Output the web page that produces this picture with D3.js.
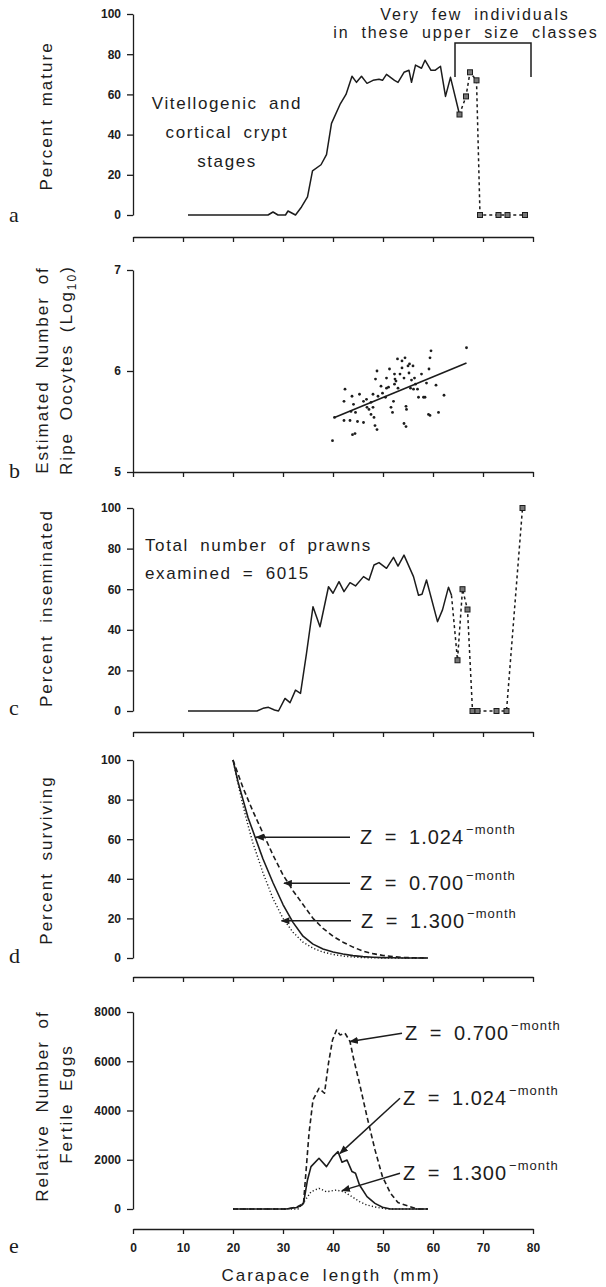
<html>
<head>
<meta charset='UTF-8'>
<script src="https://d3js.org/d3.v7.min.js"></script>
<style>
  body { margin: 0; background: #fff; }
  svg text { font-family: "Liberation Sans", Arial, Helvetica, sans-serif; fill: #1c1c1c; }
  .axis path, .axis line { stroke: #1c1c1c; stroke-width: 1.3; }
  .axis .tick text { font-size: 12px; font-weight: bold; }
  .lbl { font-size: 17px; letter-spacing: 2px; word-spacing: 5px; }
  .note { font-size: 17px; letter-spacing: 1.6px; word-spacing: 5px; }
  .top { font-size: 16px; letter-spacing: 1.9px; word-spacing: 5.5px; }
  .zlab { font-size: 20px; letter-spacing: 1px; word-spacing: 5px; }
  .panel { font-family: "Liberation Serif", "Times New Roman", serif !important; font-size: 22px; }
</style>
</head>
<body>
<svg id="fig" width="606" height="1287"></svg>
<script>
// ---- data ----
const xTicks = [0, 10, 20, 30, 40, 50, 60, 70, 80];
const pctTicks = [0, 20, 40, 60, 80, 100];
const logTicks = [5, 6, 7];
const eggTicks = [0, 2000, 4000, 6000, 8000];

// (a) percent mature, [carapace mm, %]
const matureSolid = [[11,0],[27,0],[28,1.5],[29,0],[30.5,0],[31,2],[32.5,0],[33.7,4],[34.9,9],[35.9,22],
  [37.6,25],[38.7,30],[39.7,45.6],[41.4,55],[42.6,60],[43.8,69],[44.7,66],[45.7,69],[46.8,65.5],[48,67],
  [49.2,67.5],[49.9,67],[50.7,70],[52.3,67],[53,66],[54.2,71],[55.2,72],[55.7,66],[56.5,74.6],[57.7,73],
  [58.4,77],[59.6,72],[60.4,72],[61.5,74],[62.5,59],[63.5,68.5],[65.3,50]];
const matureSparse = [[65.3,50],[66.6,59],[67.4,71],[68.7,67],[69.4,0],[73.1,0],[74.9,0],[78.4,0]];

// (b) log10 ripe oocytes vs carapace length
const oocytePoints = [[39.9,5.31],[40.3,5.54],[42.4,5.82],[42.2,5.70],[43.8,5.75],[44.1,5.67],[43.6,5.60],
  [42.2,5.51],[43.4,5.51],[44.5,5.59],[44.9,5.50],[43.9,5.37],[44.4,5.38],[46.1,5.70],[46.7,5.72],[46.8,5.64],
  [47.2,5.62],[47.6,5.69],[48.0,5.64],[48.2,5.54],[48.4,5.46],[48.8,5.42],[49.0,5.75],[48.0,5.77],[48.5,5.92],
  [48.8,6.00],[49.6,5.85],[49.9,5.78],[50.5,5.74],[50.7,5.83],[50.7,5.93],[51.1,5.84],[51.3,6.02],[51.6,5.64],
  [51.9,5.59],[52.1,5.70],[52.3,5.87],[52.4,5.92],[52.6,5.90],[53.0,5.83],[52.9,6.12],[53.4,5.97],[53.8,6.10],
  [54.2,5.93],[54.4,6.13],[54.6,5.65],[54.7,5.62],[54.6,5.45],[55.0,6.05],[55.2,5.98],[55.3,6.07],[55.5,5.83],
  [55.7,5.91],[56.0,6.05],[56.1,5.82],[56.3,5.93],[56.5,5.87],[56.9,5.82],[57.1,5.74],[57.7,5.97],[58.1,5.74],
  [58.4,5.74],[58.7,5.88],[59.1,5.57],[59.2,6.02],[59.4,5.56],[59.4,6.13],[59.6,6.20],[60.6,5.86],[61.1,5.59],
  [62.2,5.76],[66.7,6.23],[54.2,5.48],[52.3,5.97],[47.6,5.57],[46.1,5.49],[45.3,5.77],[53.8,6.03]];
const oocyteFit = [[40.3,5.54],[66.7,6.08]];

// (c) percent inseminated
const insemSolid = [[11,0],[24.8,0],[26,1.3],[27.1,1.8],[28.3,0.5],[29.1,0],[30.4,6.2],[31.4,4.1],[32.5,10.3],
  [33.5,8.7],[34.7,28.4],[36,51.4],[37.4,41.5],[39.1,61.2],[40,58],[41.2,63.7],[42.2,58.8],[43.4,63.2],
  [44.5,61.6],[46.1,66.2],[47.2,64.5],[48.2,71.9],[49.2,73.1],[50.7,70.3],[52.1,75.7],[53,71.4],[54.2,76.8],
  [56.1,66.2],[57.1,57],[57.8,57.5],[58.7,64.5],[60.9,44],[61.9,49.8],[63.1,61],[63.7,57]];
const insemSparse = [[63.7,57],[64.9,25],[65.9,60],[66.9,50],[67.9,0],[68.9,0],[72.7,0],[74.7,0],[77.9,100]];

// (d) percent surviving
const survLength = [20,21,22,23,24,26,28,30,32,34,36,38,40,42,44,46,48,50,52,54,56,59];
const surv1024 = [100,89,80,71,64,50,38,27,18,11,7,4.5,3,2,1.2,0.7,0.4,0.2,0.1,0,0,0];
const surv0700 = [100,93,86,80,74,63,52,42,34,27,20,15,11,8,5.5,3.5,2.2,1.3,0.7,0.3,0.1,0];
const surv1300 = [100,88,77,67,58,43,30,20,13,8,5,3,1.8,1,0.5,0.2,0.1,0,0,0,0,0];
const survArrows = [
  {z: '1.024', from: [43.4, 61], to: [24.6, 61]},
  {z: '0.700', from: [43.4, 37.7], to: [30.2, 37.7]},
  {z: '1.300', from: [43.6, 18.8], to: [29.7, 18.8]}
];

// (e) relative number of fertile eggs
const eggs1024 = [[20,0],[30.6,0],[31.5,30],[32.8,60],[33.7,150],[34.1,230],[34.9,1180],[35.6,1720],[37.2,2060],
  [38.7,1720],[40,2125],[41,2330],[41.8,1900],[42.8,1990],[43.8,1520],[44.5,1450],[45.3,975],[46.8,500],
  [48.4,230],[49.9,70],[51.5,0],[59,0]];
const eggs0700 = [[20,0],[31,0],[32.9,95],[34.1,230],[35.2,3070],[36,4430],[37.2,4900],[38.3,4700],[39.1,5920],
  [39.9,6860],[40.7,7270],[41.4,7070],[42.4,7140],[43.4,6800],[44.1,6120],[45.3,5100],[46.8,3750],[48.4,2400],
  [49.9,1310],[51.5,640],[53,260],[55.4,95],[56.9,0],[59,0]];
const eggs1300 = [[20,0],[33,0],[34.5,370],[35.6,700],[37.2,840],[38.7,700],[40.7,770],[41.4,730],[42.2,700],
  [43.8,500],[45.3,300],[46.8,160],[48.7,70],[50.7,0],[59,0]];
const eggArrows = [
  {z: '0.700', from: [53.8, 7136], to: [43.4, 6800]},
  {z: '1.024', from: [53.4, 4495], to: [41.4, 2260]},
  {z: '1.300', from: [53.4, 1450], to: [41.8, 745]}
];

// ---- drawing ----
const svg = d3.select('#fig');
const ink = '#1c1c1c';
const x = d3.scaleLinear().domain([0, 80]).range([133, 533]);

svg.append('defs').append('marker')
   .attr('id', 'head').attr('viewBox', '0 0 10 8')
   .attr('refX', 9).attr('refY', 4)
   .attr('markerWidth', 9).attr('markerHeight', 7)
   .attr('markerUnits', 'userSpaceOnUse').attr('orient', 'auto')
   .append('path').attr('d', 'M0,0 L10,4 L0,8 Z').attr('fill', ink);

function yScale(domain, top, bottom) {
  return d3.scaleLinear().domain(domain).range([bottom, top]);
}

function yAxis(y, ticks) {
  svg.append('g').attr('class', 'axis')
     .attr('transform', 'translate(133,0)')
     .call(d3.axisLeft(y).tickValues(ticks).tickFormat(d3.format('d'))
             .tickSize(6).tickSizeOuter(0).tickPadding(6));
}

function xAxis(yPos, labels) {
  const ax = d3.axisBottom(x).tickValues(xTicks).tickSize(5).tickSizeOuter(0).tickPadding(9);
  if (!labels) ax.tickFormat('');
  svg.append('g').attr('class', 'axis').attr('transform', `translate(0,${yPos})`).call(ax);
}

function path(data, y, dash, width) {
  svg.append('path')
     .attr('d', d3.line().x(d => x(d[0])).y(d => y(d[1]))(data))
     .attr('fill', 'none').attr('stroke', ink)
     .attr('stroke-width', width || 1.5)
     .attr('stroke-dasharray', dash || null)
     .attr('stroke-linejoin', 'round');
}

function squares(data, y) {
  svg.append('g').selectAll('rect').data(data).join('rect')
     .attr('x', d => x(d[0]) - 2.5).attr('y', d => y(d[1]) - 2.5)
     .attr('width', 5).attr('height', 5)
     .attr('fill', '#777').attr('stroke', ink).attr('stroke-width', 1);
}

function yTitle(cx, cy) {
  return svg.append('text').attr('class', 'lbl')
     .attr('transform', `translate(${cx},${cy}) rotate(-90)`)
     .attr('text-anchor', 'middle');
}

function panelLetter(letter, py) {
  svg.append('text').attr('class', 'panel').attr('x', 9).attr('y', py).text(letter);
}

function zLabel(z, px, py) {
  const t = svg.append('text').attr('class', 'zlab').attr('x', px).attr('y', py);
  t.append('tspan').text('Z = ' + z);
  t.append('tspan').attr('dy', -10).attr('font-size', 13).attr('dx', 2).text('\u2212month');
}

function arrows(list, y, textDx) {
  list.forEach(a => {
    svg.append('line')
       .attr('x1', x(a.from[0])).attr('y1', y(a.from[1]))
       .attr('x2', x(a.to[0])).attr('y2', y(a.to[1]))
       .attr('stroke', ink).attr('stroke-width', 1.5)
       .attr('marker-end', 'url(#head)');
    zLabel(a.z, x(a.from[0]) + textDx, y(a.from[1]) + 7);
  });
}

// panel a
const ya = yScale([0, 100], 14, 215);
yAxis(ya, pctTicks);
xAxis(237, false);
path(matureSolid, ya);
path(matureSparse, ya, '3,3');
squares(matureSparse, ya);
svg.append('path')
   .attr('d', `M${x(64.4)},${ya(68.7)}V${ya(85.6)}H${x(79.6)}V${ya(68.7)}`)
   .attr('fill', 'none').attr('stroke', ink).attr('stroke-width', 1.5);
svg.append('text').attr('class', 'top').attr('text-anchor', 'middle')
   .attr('x', x(68.4)).attr('y', ya(97)).text('Very few individuals');
svg.append('text').attr('class', 'top').attr('text-anchor', 'middle')
   .attr('x', x(66.6)).attr('y', ya(88)).text('in these upper size classes');
[['Vitellogenic and', 52.7], ['cortical crypt', 38.3], ['stages', 23.9]].forEach(l => {
  svg.append('text').attr('class', 'note').attr('text-anchor', 'middle')
     .attr('x', x(18.8)).attr('y', ya(l[1])).text(l[0]);
});
yTitle(52, 116).text('Percent mature');
panelLetter('a', 222);

// panel b
const yb = yScale([5, 7], 270, 472);
yAxis(yb, logTicks);
xAxis(472, false);
svg.append('g').selectAll('circle').data(oocytePoints).join('circle')
   .attr('cx', d => x(d[0])).attr('cy', d => yb(d[1])).attr('r', 1.4).attr('fill', ink);
path(oocyteFit, yb, null, 1.6);
yTitle(48, 370).text('Estimated Number of');
const tb = yTitle(72, 370);
tb.append('tspan').text('Ripe Oocytes (Log');
tb.append('tspan').attr('font-size', 12).attr('dy', 4).text('10');
tb.append('tspan').attr('dy', -4).text(')');
panelLetter('b', 478);

// panel c
const yc = yScale([0, 100], 508, 711);
yAxis(yc, pctTicks);
xAxis(732, false);
path(insemSolid, yc);
path(insemSparse, yc, '3,3');
squares(insemSparse.slice(1), yc);
svg.append('text').attr('class', 'note').attr('x', x(2.4)).attr('y', yc(79)).text('Total number of prawns');
svg.append('text').attr('class', 'note').attr('x', x(2.4)).attr('y', yc(64.9)).text('examined = 6015');
yTitle(52, 608).text('Percent inseminated');
panelLetter('c', 715);

// panel d
const yd = yScale([0, 100], 760, 958);
yAxis(yd, pctTicks);
xAxis(977, false);
const zip = vals => survLength.map((l, i) => [l, vals[i]]);
path(zip(surv1300), yd, '1.2,2.2', 1.4);
path(zip(surv0700), yd, '5,3', 1.6);
path(zip(surv1024), yd, null, 1.6);
arrows(survArrows, yd, 10);
yTitle(52, 860).text('Percent surviving');
panelLetter('d', 963);

// panel e
const ye = yScale([0, 8000], 1012, 1209);
yAxis(ye, eggTicks);
xAxis(1229, true);
path(eggs1300, ye, '1.2,2.2', 1.4);
path(eggs0700, ye, '5,3', 1.6);
path(eggs1024, ye, null, 1.6);
arrows(eggArrows, ye, 3);
yTitle(48, 1106).text('Relative Number of');
yTitle(72, 1104).text('Fertile Eggs');
panelLetter('e', 1253);
svg.append('text').attr('class', 'lbl').attr('text-anchor', 'middle')
   .attr('x', x(39.6)).attr('y', 1281).text('Carapace length (mm)');
</script>
</body>
</html>
